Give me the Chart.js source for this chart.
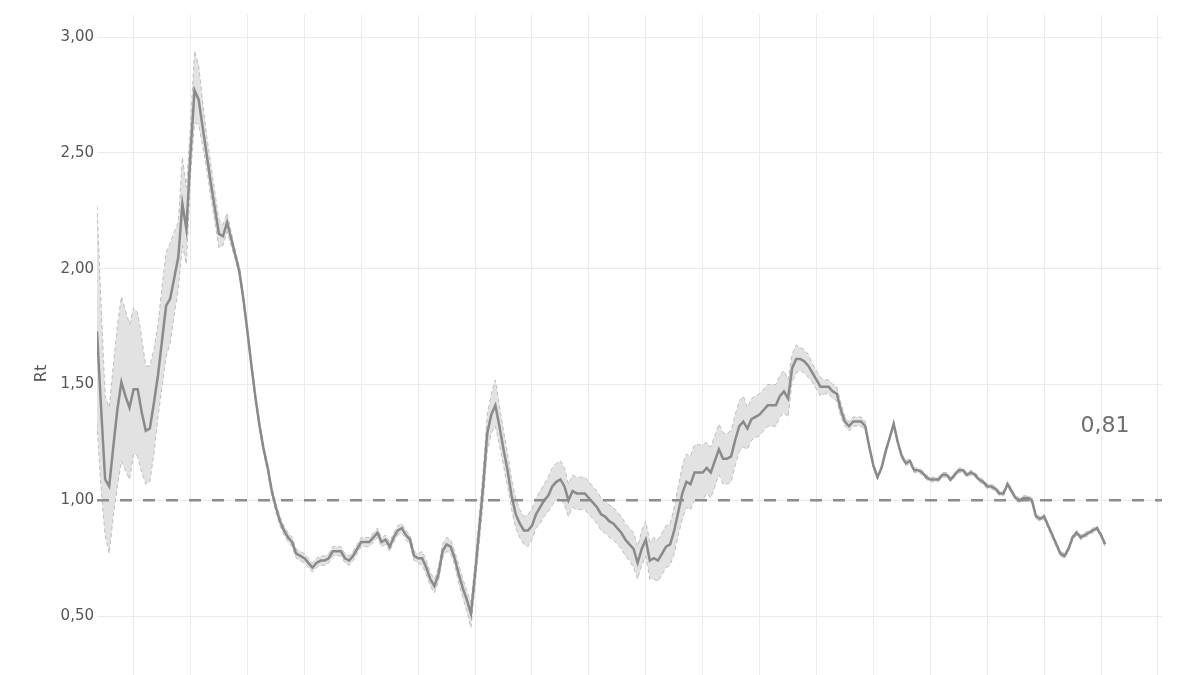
<!DOCTYPE html>
<html>
<head>
<meta charset="utf-8">
<script src="https://cdn.jsdelivr.net/npm/chart.js@4.4.1/dist/chart.umd.min.js"></script>
<style>
html,body{margin:0;padding:0;background:#fff;overflow:hidden;width:1200px;height:675px}
#c{position:absolute;left:0;top:0;width:1200px;height:744px;display:block}
</style>
</head>
<body>
<canvas id="c" width="1200" height="744"></canvas>
<script>
// Rt estimate, one value per day
const rt = [
1.73,1.40,1.09,1.06,1.23,1.39,1.51,1.45,1.40,1.48,
1.48,1.38,1.30,1.31,1.42,1.54,1.69,1.84,1.87,1.96,
2.05,2.28,2.17,2.50,2.77,2.73,2.61,2.49,2.37,2.26,
2.15,2.14,2.20,2.13,2.06,1.99,1.87,1.73,1.58,1.44,
1.32,1.22,1.14,1.04,0.97,0.91,0.87,0.84,0.82,0.77,
0.76,0.75,0.73,0.71,0.73,0.74,0.74,0.75,0.78,0.78,
0.78,0.75,0.74,0.76,0.79,0.82,0.82,0.82,0.84,0.86,
0.82,0.83,0.80,0.84,0.87,0.88,0.85,0.83,0.76,0.75,
0.75,0.71,0.66,0.63,0.68,0.78,0.81,0.80,0.75,0.68,
0.62,0.57,0.51,0.68,0.87,1.06,1.29,1.37,1.41,1.32,
1.22,1.13,1.02,0.94,0.90,0.87,0.87,0.89,0.94,0.97,
1.00,1.02,1.06,1.08,1.09,1.06,1.00,1.04,1.03,1.03,
1.03,1.01,0.99,0.97,0.94,0.93,0.91,0.90,0.88,0.86,
0.83,0.81,0.79,0.73,0.79,0.83,0.74,0.75,0.74,0.77,
0.80,0.81,0.87,0.95,1.03,1.08,1.07,1.12,1.12,1.12,
1.14,1.12,1.17,1.22,1.18,1.18,1.19,1.26,1.32,1.34,
1.31,1.35,1.36,1.37,1.39,1.41,1.41,1.41,1.45,1.47,
1.44,1.57,1.61,1.61,1.60,1.58,1.55,1.52,1.49,1.49,
1.49,1.47,1.46,1.39,1.34,1.32,1.34,1.34,1.34,1.32,
1.23,1.15,1.10,1.14,1.21,1.27,1.33,1.25,1.19,1.16,
1.17,1.13,1.13,1.12,1.10,1.09,1.09,1.09,1.11,1.11,
1.09,1.11,1.13,1.13,1.11,1.12,1.11,1.09,1.08,1.06,
1.06,1.05,1.03,1.03,1.07,1.04,1.01,1.00,1.01,1.01,
1.00,0.93,0.92,0.93,0.89,0.85,0.81,0.77,0.76,0.79,
0.84,0.86,0.84,0.85,0.86,0.87,0.88,0.85,0.81
];
// Upper bound of the interval
const rtUpper = [
2.27,1.85,1.45,1.40,1.58,1.75,1.88,1.82,1.76,1.83,
1.81,1.70,1.58,1.58,1.65,1.76,1.92,2.07,2.11,2.16,
2.20,2.48,2.35,2.62,2.94,2.88,2.72,2.57,2.45,2.33,
2.21,2.19,2.24,2.16,2.08,2.01,1.89,1.75,1.60,1.46,
1.34,1.24,1.16,1.06,0.99,0.93,0.89,0.86,0.84,0.79,
0.78,0.77,0.75,0.73,0.75,0.76,0.76,0.77,0.80,0.80,
0.80,0.77,0.76,0.78,0.81,0.84,0.84,0.84,0.86,0.88,
0.84,0.85,0.82,0.86,0.89,0.90,0.87,0.85,0.78,0.77,
0.78,0.74,0.69,0.66,0.71,0.81,0.84,0.83,0.78,0.72,
0.66,0.61,0.56,0.73,0.93,1.13,1.37,1.46,1.52,1.41,
1.30,1.20,1.09,1.01,0.96,0.93,0.94,0.96,1.01,1.04,
1.07,1.10,1.14,1.16,1.17,1.14,1.07,1.11,1.10,1.10,
1.10,1.08,1.06,1.04,1.01,1.00,0.98,0.97,0.95,0.93,
0.90,0.88,0.86,0.80,0.87,0.91,0.82,0.84,0.83,0.86,
0.89,0.90,0.97,1.06,1.15,1.20,1.19,1.24,1.24,1.24,
1.25,1.23,1.28,1.33,1.29,1.29,1.30,1.37,1.43,1.45,
1.40,1.44,1.45,1.46,1.48,1.50,1.50,1.50,1.54,1.56,
1.52,1.63,1.67,1.66,1.65,1.63,1.59,1.56,1.53,1.52,
1.52,1.50,1.49,1.42,1.36,1.34,1.36,1.36,1.36,1.34,
1.24,1.16,1.11,1.15,1.22,1.28,1.34,1.26,1.20,1.17,
1.18,1.14,1.14,1.13,1.11,1.10,1.10,1.10,1.12,1.12,
1.10,1.12,1.14,1.14,1.12,1.13,1.12,1.10,1.09,1.07,
1.07,1.06,1.04,1.04,1.08,1.05,1.02,1.01,1.02,1.02,
1.01,0.94,0.93,0.94,0.90,0.86,0.82,0.78,0.77,0.80,
0.85,0.87,0.85,0.86,0.87,0.88,0.89,0.86,0.82
];
// Lower bound of the interval
const rtLower = [
1.33,1.05,0.85,0.77,0.93,1.06,1.17,1.13,1.09,1.20,
1.19,1.12,1.07,1.08,1.20,1.36,1.49,1.62,1.68,1.80,
1.91,2.10,2.02,2.40,2.63,2.62,2.53,2.43,2.31,2.20,
2.09,2.10,2.16,2.10,2.04,1.97,1.85,1.71,1.56,1.42,
1.30,1.20,1.12,1.02,0.95,0.89,0.85,0.82,0.80,0.75,
0.74,0.73,0.71,0.69,0.71,0.72,0.72,0.73,0.76,0.76,
0.76,0.73,0.72,0.74,0.77,0.80,0.80,0.80,0.82,0.84,
0.80,0.81,0.78,0.82,0.85,0.86,0.83,0.81,0.74,0.73,
0.72,0.68,0.63,0.60,0.65,0.75,0.78,0.77,0.72,0.64,
0.58,0.52,0.45,0.63,0.81,0.99,1.21,1.29,1.32,1.24,
1.15,1.06,0.96,0.88,0.84,0.81,0.80,0.83,0.88,0.90,
0.93,0.95,0.98,1.00,1.01,0.98,0.93,0.97,0.96,0.96,
0.96,0.94,0.92,0.90,0.87,0.86,0.84,0.83,0.81,0.79,
0.76,0.74,0.71,0.66,0.72,0.76,0.66,0.66,0.65,0.68,
0.71,0.72,0.77,0.85,0.92,0.97,0.96,1.00,1.00,1.00,
1.03,1.01,1.06,1.11,1.07,1.07,1.08,1.15,1.21,1.23,
1.22,1.26,1.27,1.28,1.30,1.32,1.32,1.32,1.36,1.38,
1.36,1.51,1.55,1.56,1.55,1.53,1.51,1.48,1.45,1.46,
1.46,1.44,1.43,1.36,1.32,1.30,1.32,1.32,1.32,1.30,
1.22,1.14,1.09,1.13,1.20,1.26,1.32,1.24,1.18,1.15,
1.16,1.12,1.12,1.11,1.09,1.08,1.08,1.08,1.10,1.10,
1.08,1.10,1.12,1.12,1.10,1.11,1.10,1.08,1.07,1.05,
1.05,1.04,1.02,1.02,1.06,1.03,1.00,0.99,1.00,1.00,
0.99,0.92,0.91,0.92,0.88,0.84,0.80,0.76,0.75,0.78,
0.83,0.85,0.83,0.84,0.85,0.86,0.87,0.84,0.80
];
// day index of each value (categories)
const days = rt.map((_, i) => i);
// reference level Rt = 1
const refDays = [0, 262];
const refLevel = [1, 1];
// tick labels / grid positions
const yTickValues = [0.5, 1.0, 1.5, 2.0, 2.5, 3.0];
const xGridDays = [9, 23, 37, 51, 65, 79, 93, 107, 121, 135, 149, 163, 177, 191, 205, 219, 233, 247, 261];

const fmt = v => v.toFixed(2).replace('.', ',');
const pts = (xs, ys) => xs.map((x, i) => ({ x: x, y: ys[i] }));

const FONT = '"DejaVu Sans", Verdana, sans-serif';
const GRID = '#ebebeb';

const lastLabel = {
  id: 'lastLabel',
  afterDatasetsDraw(chart, args, opts) {
    const { ctx, scales } = chart;
    const i = rt.length - 1;
    ctx.save();
    ctx.font = opts.size + 'px ' + FONT;
    ctx.fillStyle = opts.color;
    ctx.textAlign = 'center';
    ctx.textBaseline = 'middle';
    ctx.fillText(fmt(rt[i]), scales.x.getPixelForValue(days[i]), scales.y.getPixelForValue(opts.atValue));
    ctx.restore();
  }
};

new Chart(document.getElementById('c'), {
  type: 'line',
  data: {
    datasets: [
      { label: 'Rt', data: pts(days, rt), borderColor: '#8a8a8a', borderWidth: 2.5,
        pointRadius: 0, fill: false, tension: 0, order: 0 },
      { label: 'ref', data: pts(refDays, refLevel), borderColor: '#8c8c8c', borderWidth: 2.5,
        borderDash: [12, 11], pointRadius: 0, fill: false, order: 1 },
      { label: 'lower', data: pts(days, rtLower), borderColor: '#bdbdbd', borderWidth: 1,
        borderDash: [4, 3], pointRadius: 0, fill: false, order: 2 },
      { label: 'upper', data: pts(days, rtUpper), borderColor: '#bdbdbd', borderWidth: 1,
        borderDash: [4, 3], pointRadius: 0, fill: 2, backgroundColor: '#e2e2e2', order: 3 }
    ]
  },
  options: {
    responsive: false,
    maintainAspectRatio: false,
    devicePixelRatio: 1,
    animation: false,
    layout: { padding: { left: 28, right: 38, top: 15, bottom: 0 } },
    plugins: {
      legend: { display: false },
      tooltip: { enabled: false },
      lastLabel: { size: 22, color: '#6e6e6e', atValue: 1.32 }
    },
    scales: {
      x: {
        type: 'linear', min: 0, max: 262,
        afterBuildTicks: s => { s.ticks = xGridDays.map(v => ({ value: v })); },
        ticks: { display: false },
        grid: { color: GRID, lineWidth: 1, drawTicks: false },
        border: { display: false }
      },
      y: {
        min: 0, max: 3.095,
        afterBuildTicks: s => { s.ticks = yTickValues.map(v => ({ value: v })); },
        afterFit: s => { s.width = 69; },
        ticks: { callback: v => fmt(v), color: '#555', font: { family: FONT, size: 15 }, padding: 3 },
        grid: { color: GRID, lineWidth: 1, drawTicks: false },
        border: { display: false },
        title: { display: true, text: 'Rt', color: '#555', font: { family: FONT, size: 16 }, padding: { top: 4, bottom: 4 } }
      }
    }
  },
  plugins: [lastLabel]
});
</script>
</body>
</html>
